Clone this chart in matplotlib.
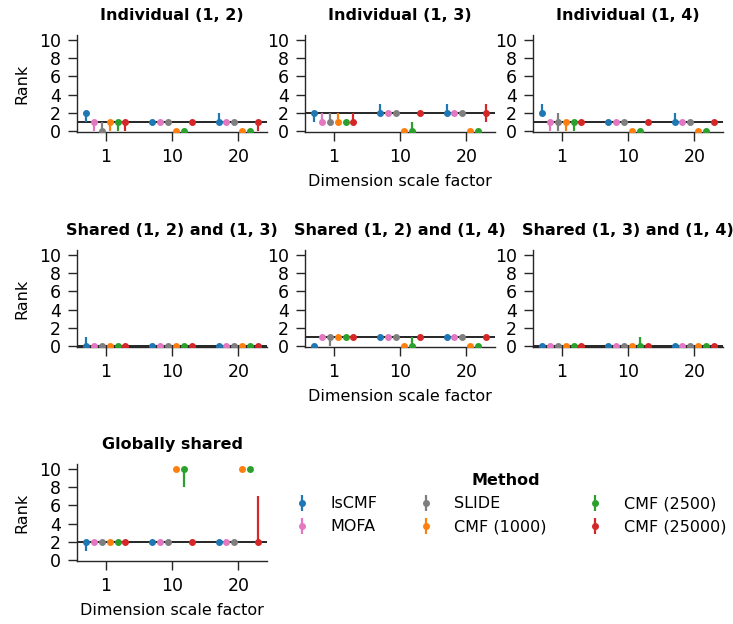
import matplotlib
matplotlib.use("Agg")
import matplotlib.pyplot as plt
import numpy as np

plt.rcParams["font.family"] = ["DejaVu Sans"]
plt.rcParams["font.size"] = 11.5

# ── Data ────────────────────────────────────────────────────────────────
methods = ["lsCMF", "MOFA", "SLIDE", "CMF (1000)", "CMF (2500)", "CMF (25000)"]
colors = ["#1f77b4", "#e377c2", "#7f7f7f", "#ff7f0e", "#2ca02c", "#d62728"]
scale_factors = ["1", "10", "20"]

# rows = scale factor, columns = method (median rank, error bar low, high)
ind12_rank = [[2, 1, 0, 1, 1, 1], [1, 1, 1, 0, 0, 1], [1, 1, 1, 0, 0, 1]]
ind12_lo = [[1, 0, 0, 0, 0, 0], [1, 1, 1, 0, 0, 1], [1, 1, 1, 0, 0, 0]]
ind12_hi = [[2, 1, 1, 1, 1, 1], [1, 1, 1, 0, 0, 1], [2, 1, 1, 0, 0, 1]]

ind13_rank = [[2, 1, 1, 1, 1, 1], [2, 2, 2, 0, 0, 2], [2, 2, 2, 0, 0, 2]]
ind13_lo = [[1, 1, 1, 1, 1, 1], [2, 2, 2, 0, 0, 2], [2, 2, 2, 0, 0, 1]]
ind13_hi = [[2.2, 2, 2, 2, 1, 2], [3, 2, 2, 0, 1, 2], [3, 2, 2, 0, 0, 3]]

ind14_rank = [[2, 1, 1, 1, 1, 1], [1, 1, 1, 0, 0, 1], [1, 1, 1, 0, 0, 1]]
ind14_lo = [[2, 0, 0, 0, 0, 1], [1, 1, 1, 0, 0, 1], [1, 1, 1, 0, 0, 1]]
ind14_hi = [[3, 1, 2, 1, 1, 1], [1, 1, 1, 0, 0, 1], [2, 1, 1, 0, 0, 1]]

sh12_13_rank = [[0, 0, 0, 0, 0, 0], [0, 0, 0, 0, 0, 0], [0, 0, 0, 0, 0, 0]]
sh12_13_lo = [[0, 0, 0, 0, 0, 0], [0, 0, 0, 0, 0, 0], [0, 0, 0, 0, 0, 0]]
sh12_13_hi = [[1, 0, 0, 0, 0, 0], [0, 0, 0, 0, 0, 0], [0, 0, 0, 0, 0, 0]]

sh12_14_rank = [[0, 1, 1, 1, 1, 1], [1, 1, 1, 0, 0, 1], [1, 1, 1, 0, 0, 1]]
sh12_14_lo = [[0, 1, 0, 1, 1, 1], [1, 1, 1, 0, 0, 1], [1, 1, 1, 0, 0, 1]]
sh12_14_hi = [[0, 1, 1, 1, 1, 1], [1, 1, 1, 0, 1, 1], [1, 1, 1, 0, 0, 1]]

sh13_14_rank = [[0, 0, 0, 0, 0, 0], [0, 0, 0, 0, 0, 0], [0, 0, 0, 0, 0, 0]]
sh13_14_lo = [[0, 0, 0, 0, 0, 0], [0, 0, 0, 0, 0, 0], [0, 0, 0, 0, 0, 0]]
sh13_14_hi = [[0, 0, 0, 0, 0, 0], [0, 0, 0, 0, 1, 0], [0, 0, 0, 0, 0, 0]]

glob_rank = [[2, 2, 2, 2, 2, 2], [2, 2, 2, 10, 10, 2], [2, 2, 2, 10, 10, 2]]
glob_lo = [[1, 2, 2, 2, 2, 2], [2, 2, 2, 10, 8, 2], [2, 2, 2, 10, 10, 2]]
glob_hi = [[2, 2, 2, 2, 2, 2], [2, 2, 2, 10, 10, 2], [2, 2, 2, 10, 10, 7]]

titles = ["Individual (1, 2)", "Individual (1, 3)", "Individual (1, 4)",
          "Shared (1, 2) and (1, 3)", "Shared (1, 2) and (1, 4)",
          "Shared (1, 3) and (1, 4)", "Globally shared"]
true_rank = [1, 2, 1, 0, 1, 0, 2]

panels = list(zip(
    titles, true_rank,
    [ind12_rank, ind13_rank, ind14_rank, sh12_13_rank, sh12_14_rank, sh13_14_rank, glob_rank],
    [ind12_lo, ind13_lo, ind14_lo, sh12_13_lo, sh12_14_lo, sh13_14_lo, glob_lo],
    [ind12_hi, ind13_hi, ind14_hi, sh12_13_hi, sh12_14_hi, sh13_14_hi, glob_hi],
))

# ── Figure ──────────────────────────────────────────────────────────────
W, H = 733, 624
fig = plt.figure(figsize=(W / 100, H / 100), dpi=100)

col_left = [77, 305, 533]
row_top = [35, 250, 464]
ax_w, ax_h = 190, 97

offsets = np.linspace(-0.3, 0.3, len(methods))
xpos = np.arange(len(scale_factors))
spine_col = "#262626"
handles = []

for k, (title, truth, rank, lo, hi) in enumerate(panels):
    r, c = divmod(k, 3)
    ax = fig.add_axes([col_left[c] / W, 1 - (row_top[r] + ax_h) / H, ax_w / W, ax_h / H])
    rank = np.array(rank, dtype=float)
    lo = np.array(lo, dtype=float)
    hi = np.array(hi, dtype=float)

    ax.axhline(truth, color="black", lw=1.2, zorder=1)
    for j, m in enumerate(methods):
        y = rank[:, j]
        err = np.vstack([y - lo[:, j], hi[:, j] - y])
        h = ax.errorbar(xpos + offsets[j], y, yerr=err, fmt="o", ms=4,
                        color=colors[j], ecolor=colors[j], elinewidth=1.6,
                        capsize=0, label=m, zorder=3)
        if k == 0:
            handles.append(h)

    ax.set_xlim(-0.43, 2.43)
    ax.set_ylim(-0.12, 10.55)
    ax.set_xticks(xpos)
    ax.set_xticklabels(scale_factors)
    ax.set_yticks(range(0, 11, 2))
    ax.tick_params(labelsize=12.5, length=6.5, width=1, pad=5, color=spine_col)
    for s in ["top", "right"]:
        ax.spines[s].set_visible(False)
    for s in ["left", "bottom"]:
        ax.spines[s].set_color(spine_col)
        ax.spines[s].set_linewidth(1)
    ax.set_title(title, fontweight="bold", fontsize=11.5, pad=11)
    if c == 0:
        ax.set_ylabel("Rank", labelpad=7)
    if c == 1 or k == 6:
        ax.set_xlabel("Dimension scale factor", labelpad=6)

leg = fig.legend(handles=handles, labels=methods, ncol=3, loc="upper center",
                 bbox_to_anchor=(506 / W, 1 - 459 / H), frameon=False,
                 title="Method", columnspacing=2.0, handlelength=2,
                 handletextpad=0.8, labelspacing=0.5)
leg.get_title().set_fontweight("bold")

fig.savefig("out.png", dpi=100)
